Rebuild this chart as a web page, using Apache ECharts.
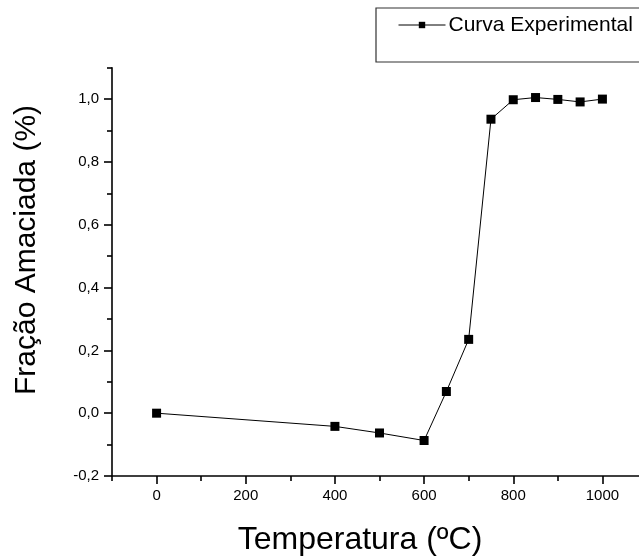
<!DOCTYPE html>
<html>
<head>
<meta charset="utf-8">
<script src="https://cdn.jsdelivr.net/npm/echarts@6/dist/echarts.min.js"></script>
<style>html,body{margin:0;padding:0;background:#fff;}#c{width:639px;height:558px;}</style>
</head>
<body>
<div id="c"></div>
<script>
const temperatures = [0, 400, 500, 600, 650, 700, 750, 800, 850, 900, 950, 1000];
const fraction = [0.0, -0.042, -0.063, -0.087, 0.069, 0.235, 0.936, 0.998, 1.005, 0.999, 0.991, 1.0];
const seriesName = 'Curva Experimental';
const xTitle = 'Temperatura (ºC)';
const yTitle = 'Fração Amaciada (%)';
const xMajor = [0, 200, 400, 600, 800, 1000];
const xMinor = [-100, 100, 300, 500, 700, 900, 1100];
const yMajor = [-0.2, 0, 0.2, 0.4, 0.6, 0.8, 1.0];
const yMinor = [-0.1, 0.1, 0.3, 0.5, 0.7, 0.9, 1.1];

const FONT = 'Liberation Sans, Arial, sans-serif';
const chart = echarts.init(document.getElementById('c'));
const lineStyle = {color: '#000', width: 1.6};
chart.setOption({
  animation: false,
  backgroundColor: '#fff',
  grid: {left: 112, top: 67.7, width: 535, height: 408.3, containLabel: false, outerBoundsMode: 'none'},
  legend: {
    data: [seriesName], left: 376, top: 7.5,
    padding: [7, 4, 28, 22],
    borderWidth: 0,
    itemWidth: 47, itemHeight: 8, itemGap: 4,
    lineStyle: {width: 1},
    textStyle: {fontFamily: FONT, fontSize: 21, color: '#000', padding: [0, 0, 0, -2]}
  },
  xAxis: [
    {type: 'value', min: -100, max: 1100, position: 'bottom',
     axisLine: {show: true, onZero: false, lineStyle: lineStyle},
     splitLine: {show: false},
     axisTick: {show: true, length: 8, customValues: xMajor, lineStyle: lineStyle},
     axisLabel: {customValues: xMajor, margin: 12, fontFamily: FONT, fontSize: 15, color: '#000',
       formatter: v => String(v)}},
    {type: 'value', min: -100, max: 1100, position: 'bottom',
     axisLine: {show: false, onZero: false}, splitLine: {show: false},
     axisTick: {show: true, length: 5, customValues: xMinor, lineStyle: lineStyle},
     axisLabel: {show: false}}
  ],
  yAxis: [
    {type: 'value', min: -0.2, max: 1.1, position: 'left',
     axisLine: {show: true, onZero: false, lineStyle: lineStyle},
     splitLine: {show: false},
     axisTick: {show: true, length: 8, customValues: yMajor, lineStyle: lineStyle},
     axisLabel: {customValues: yMajor, margin: 13, fontFamily: FONT, fontSize: 15, color: '#000',
       formatter: v => v.toFixed(1).replace('.', ',')}},
    {type: 'value', min: -0.2, max: 1.1, position: 'left',
     axisLine: {show: false, onZero: false}, splitLine: {show: false},
     axisTick: {show: true, length: 5, customValues: yMinor, lineStyle: lineStyle},
     axisLabel: {show: false}}
  ],
  graphic: [
    {type: 'rect', shape: {x: 376, y: 8, width: 300, height: 54}, style: {fill: 'none', stroke: '#333', lineWidth: 1.2}, z: -1},
    {type: 'text', x: 360, y: 540, style: {text: xTitle, font: '32px ' + FONT, fill: '#000', textAlign: 'center', textVerticalAlign: 'middle'}},
    {type: 'text', x: 27, y: 250, rotation: Math.PI / 2, style: {text: yTitle, font: '30px ' + FONT, fill: '#000', textAlign: 'center', textVerticalAlign: 'middle'}}
  ],
  series: [{
    name: seriesName, type: 'line', xAxisIndex: 0, yAxisIndex: 0,
    data: temperatures.map((t, i) => [t, fraction[i]]),
    symbol: 'rect', symbolSize: 9,
    itemStyle: {color: '#000'},
    lineStyle: {color: '#000', width: 1},
    clip: false
  }]
});
</script>
</body>
</html>
